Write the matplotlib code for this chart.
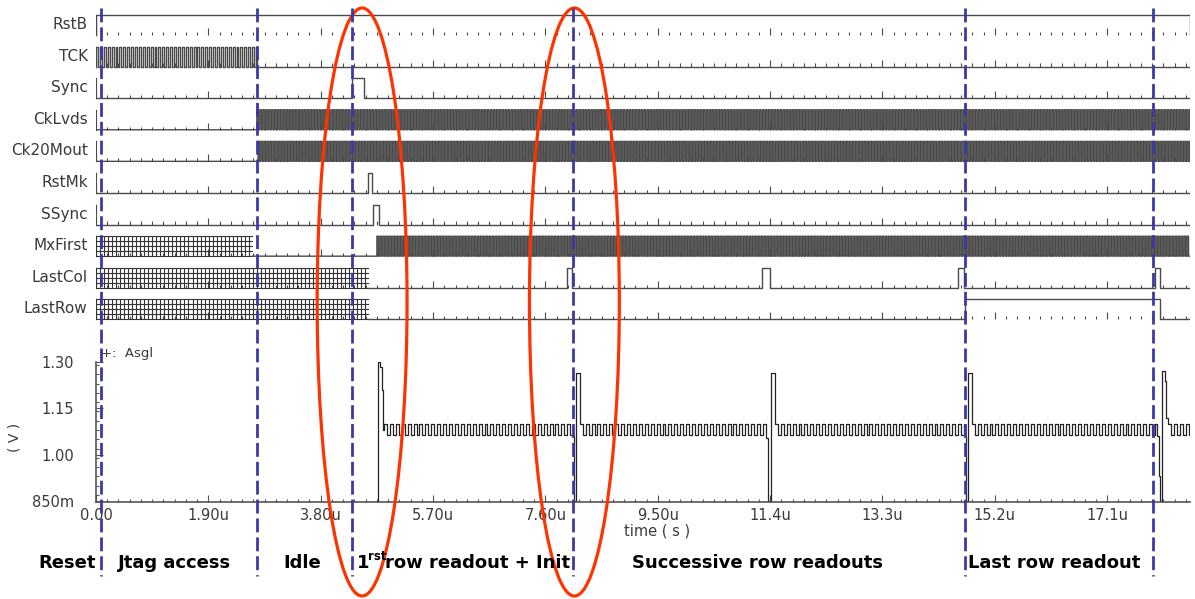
import numpy as np
import matplotlib
matplotlib.use('Agg')
import matplotlib.pyplot as plt
import matplotlib.transforms as mtransforms
from matplotlib.lines import Line2D
from matplotlib.patches import Ellipse
from matplotlib.ticker import MultipleLocator

W, H = 1195, 599

# digital signals, top to bottom
rows = ['RstB', 'TCK', 'Sync', 'CkLvds', 'Ck20Mout', 'RstMk', 'SSync', 'MxFirst', 'LastCol', 'LastRow']

# high pulses (start, end) in us
pulses = {
    'RstB': [(0.0, 18.5)],
    'Sync': [(4.33, 4.54)],
    'RstMk': [(4.60, 4.66)],
    'SSync': [(4.69, 4.79)],
    'LastCol': [(7.97, 8.05), (11.27, 11.39), (14.58, 14.67), (17.90, 18.00)],
    'LastRow': [(14.69, 18.00)],
}
# clocks: start, stop, period (us)
clocks = {
    'TCK': (0.0, 2.72, 0.066),
    'CkLvds': (2.72, 18.5, 0.05),
    'Ck20Mout': (2.74, 18.5, 0.05),
    'MxFirst': (4.75, 18.5, 0.05),
}
# unknown state (crosshatched): start, stop, hatch pitch
unknown = {
    'MxFirst': (0.0, 2.64, 0.068),
    'LastCol': (0.0, 4.60, 0.068),
    'LastRow': (0.0, 4.60, 0.068),
}

# analog output Asgl: glitches at row changes, then ripple
glitch_t = [
    [4.76, 4.775, 4.81, 4.84, 4.855],
    [8.06, 8.09, 8.11],
    [11.33, 11.37, 11.42],
    [14.70, 14.72, 14.75],
    [17.95, 17.97, 18.00, 18.03, 18.07, 18.10],
]
glitch_v = [
    [0.85, 1.30, 1.285, 1.21, 1.08],
    [1.06, 0.85, 1.265],
    [1.055, 0.85, 1.265],
    [1.06, 0.85, 1.265],
    [1.06, 0.93, 0.85, 1.27, 1.24, 1.12],
]
ripple_start = [4.87, 8.18, 11.48, 14.81, 18.13]
ripple_end = [8.06, 11.33, 14.70, 17.95, 18.5]
ripple_hi, ripple_lo, ripple_period = 1.10, 1.065, 0.1

x_major = [0.0, 1.9, 3.8, 5.7, 7.6, 9.5, 11.4, 13.3, 15.2, 17.1]
x_labels = ['0.00', '1.90u', '3.80u', '5.70u', '7.60u', '9.50u', '11.4u', '13.3u', '15.2u', '17.1u']
y_major = [0.85, 1.00, 1.15, 1.30]
y_labels = ['850m', '1.00', '1.15', '1.30']

phase_t = [0.085, 2.72, 4.33, 8.07, 14.69, 17.87]
phase_names = ['Reset', 'Jtag access', 'Idle', None, 'Successive row readouts', 'Last row readout']
phase_px = [38, 118, 283, 357, 632, 968]
circle_t = [4.50, 8.09]

TMAX = 18.5
trace_c = '#4a4a4a'
txt_c = '#3a3a3a'


def fx(px):
    return px / W


def fy(px):
    return 1 - px / H


def step_trace(intervals, t0, t1):
    ts, vs = [t0], [0]
    for a, b in sorted(intervals):
        ts += [a, b]
        vs += [1, 0]
    ts.append(t1)
    vs.append(0)
    return np.array(ts), np.array(vs)


fig = plt.figure(figsize=(W / 100, H / 100), dpi=100)

# ---- digital rows
ax_d = fig.add_axes([fx(96), fy(328), fx(1094), 323 / H])
ax_d.set_xlim(0, TMAX)
ax_d.set_ylim(-0.272, 9.946)
ax_d.axis('off')

minor_t = np.arange(0, TMAX + 1e-6, 0.19)
is_major = np.isclose(np.mod(minor_t + 1e-6, 1.9), 0, atol=1e-3)
AMP = 0.633

for i, name in enumerate(rows):
    base = 9 - i
    ax_d.text(-0.14, base + 0.33, name, ha='right', va='center', fontsize=11, color=txt_c)
    ax_d.vlines(minor_t[~is_major], base, base + 0.1, color=trace_c, lw=0.8)
    ax_d.vlines(minor_t[is_major], base, base + 0.22, color=trace_c, lw=0.8)
    ax_d.plot([0, 0], [base, base + AMP], color=trace_c, lw=0.8)
    ax_d.plot([-0.04, 0], [base + AMP, base + AMP], color=trace_c, lw=0.8)
    ax_d.plot([-0.04, 0], [base, base], color=trace_c, lw=0.8)

    intervals = list(pulses.get(name, []))
    if name in clocks:
        a, b, p = clocks[name]
        for s in np.arange(a, b, p):
            intervals.append((s, min(s + p / 2, b)))
    t0 = 0.0
    if name in unknown:
        ua, ub, pitch = unknown[name]
        t0 = ub
        for lv in np.linspace(0, AMP, 5):
            ax_d.plot([ua, ub], [base + lv, base + lv], color='#333333', lw=0.8)
        ax_d.vlines(np.arange(ua, ub, pitch), base, base + AMP, color='#333333', lw=0.8)
    intervals = [(a, b) for a, b in intervals if b > t0]
    ts, vs = step_trace(intervals, t0, TMAX)
    ax_d.plot(ts, base + AMP * vs, drawstyle='steps-post', color=trace_c, lw=1)

# ---- analog plot
ax_a = fig.add_axes([fx(96), fy(502), fx(1094), 140 / H])
ax_a.set_xlim(0, TMAX)
ax_a.set_ylim(0.847, 1.30)

at, av = [], []
for k in range(len(ripple_start)):
    at += glitch_t[k]
    av += glitch_v[k]
    edges = np.arange(ripple_start[k], ripple_end[k], ripple_period / 2)
    at += list(edges)
    av += [ripple_hi if j % 2 == 0 else ripple_lo for j in range(len(edges))]
at.append(TMAX)
av.append(av[-1])
ax_a.plot(at, av, drawstyle='steps-post', color='#222222', lw=0.9)

for s in ['top', 'right']:
    ax_a.spines[s].set_visible(False)
for s in ['left', 'bottom']:
    ax_a.spines[s].set_color('#555555')
    ax_a.spines[s].set_linewidth(1.2)
ax_a.set_xticks(x_major)
ax_a.set_xticklabels(x_labels)
ax_a.xaxis.set_minor_locator(MultipleLocator(0.19))
ax_a.set_yticks(y_major)
ax_a.set_yticklabels(y_labels)
ax_a.yaxis.set_minor_locator(MultipleLocator(0.03))
ax_a.tick_params(which='both', direction='in', color='#555555', width=0.8)
ax_a.tick_params(which='major', length=5)
ax_a.tick_params(which='minor', length=2.5)
ax_a.tick_params(axis='x', pad=4, labelsize=10.5, labelcolor=txt_c)
ax_a.tick_params(axis='y', pad=16, labelsize=10.5, labelcolor=txt_c)

fig.text(fx(101), fy(353), '+:  Asgl', fontsize=9.5, color=txt_c, va='center')
fig.text(fx(15), fy(437), '( V )', rotation=90, fontsize=10, color=txt_c, ha='center', va='center')
fig.text(fx(657), fy(531), 'time ( s )', fontsize=10.5, color=txt_c, ha='center', va='center')

# ---- phase markers, highlight ellipses, phase names
trans = mtransforms.blended_transform_factory(ax_a.transData, fig.transFigure)
for t in phase_t:
    fig.add_artist(Line2D([t, t], [fy(8), fy(576)], transform=trans, color='#3a3aa6',
                          lw=2.0, dashes=(5, 1.8)))
for t in circle_t:
    fig.add_artist(Ellipse((t, fy(302)), width=1.52, height=588 / H, transform=trans,
                           fill=False, ec='#ff3300', lw=2.3))
for name, px in zip(phase_names, phase_px):
    if name is None:
        # "1rst row readout + Init" with raised "rst"
        fig.text(fx(px), fy(563), '1', fontsize=13, fontweight='bold', va='center')
        fig.text(fx(px + 11), fy(557), 'rst', fontsize=8.5, fontweight='bold', va='center')
        fig.text(fx(px + 28), fy(563), 'row readout + Init', fontsize=13, fontweight='bold',
                 va='center')
        continue
    fig.text(fx(px), fy(563), name, fontsize=13, fontweight='bold', ha='left', va='center',
             color='black')

fig.savefig('out.png', dpi=100)
